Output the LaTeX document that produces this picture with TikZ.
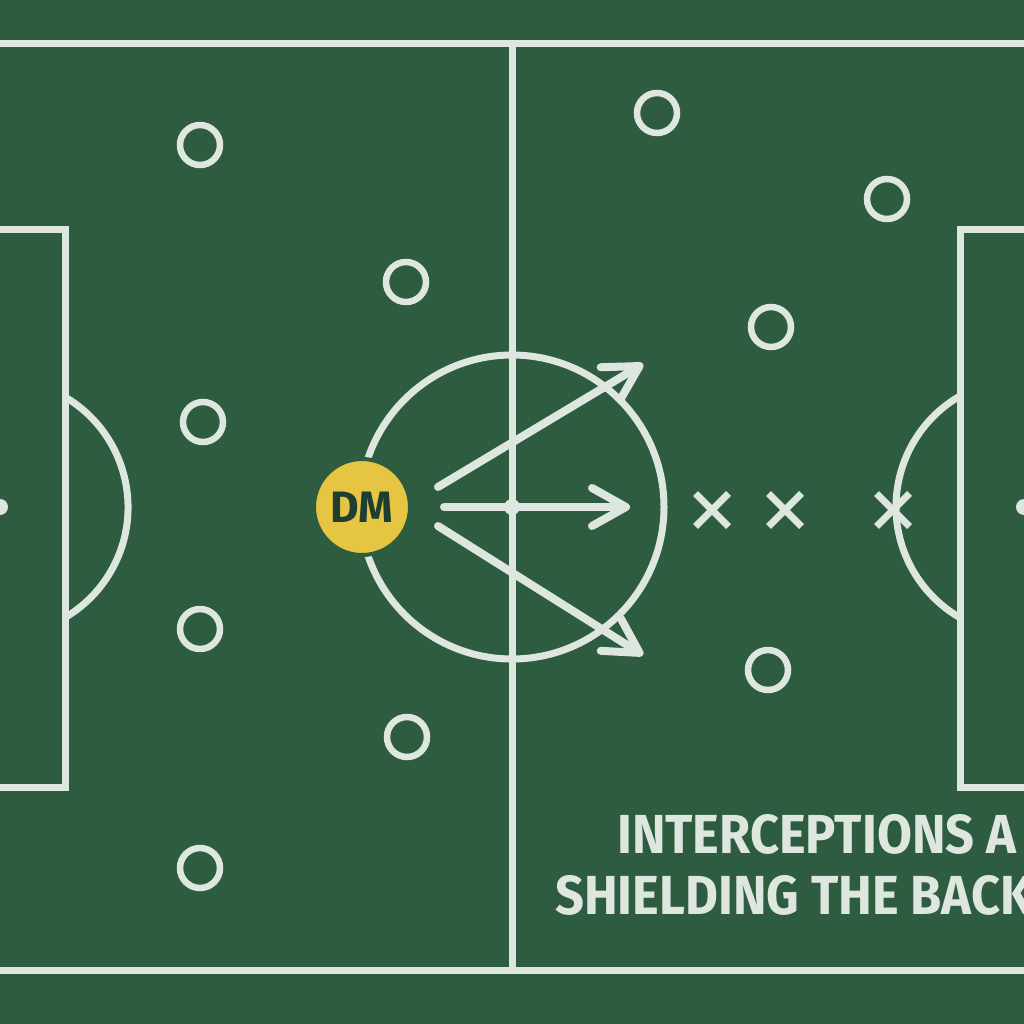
\documentclass[tikz,border=0pt]{standalone}
\usepackage{fontspec}
\setmainfont{Fira Sans}
\newfontfamily\titlefont{Fira Sans}[FakeStretch=0.92]
\usepackage{tikz}
\usetikzlibrary{positioning}
\usetikzlibrary{arrows.meta,shapes.misc}
\definecolor{pitch}{RGB}{45,92,64}
\definecolor{chalk}{RGB}{222,230,224}
\definecolor{dmyellow}{RGB}{229,197,66}
\definecolor{dmtext}{RGB}{30,62,50}

\begin{document}
\begin{tikzpicture}[x=1pt,y=-1pt,
	line/.style={draw=chalk,line width=7pt},
	player/.style={circle,draw=chalk,line width=6.5pt,minimum size=40pt,inner sep=0},
	marker/.style={cross out,draw=chalk,line width=7pt,minimum size=26pt,inner sep=0},
	dm/.style={circle,fill=dmyellow,draw=pitch,line width=4pt,minimum size=96pt,inner sep=0,text=dmtext,font=\bfseries\fontsize{44}{44}\selectfont},
	run/.style={draw=chalk,line width=8pt,line cap=round,-{Straight Barb[length=34pt,width=38pt,round]}},
	title/.style={text=chalk,inner sep=0,anchor=base west,font=\titlefont\bfseries\fontsize{55}{55}\selectfont}]
	\useasboundingbox (0,0) rectangle (1024,1024);
	\clip (0,0) rectangle (1024,1024);
	\fill[pitch] (0,0) rectangle (1024,1024);
	% pitch lines
	\draw[line] (0,44) -- (1024,44);
	\draw[line] (0,970) -- (1024,970);
	\draw[line] (512,44) -- (512,970);
	\draw[line] (512,507) circle[radius=152];
	\fill[chalk] (512,507) circle[radius=8];
	\draw[line] (0,230) -- (65,230) -- (65,787) -- (0,787);
	\draw[line] (65,397) arc[start angle=-59.5,end angle=59.5,radius=128];
	\fill[chalk] (0,507) circle[radius=8];
	\draw[line] (1024,230) -- (960,230) -- (960,787) -- (1024,787);
	\draw[line] (960,396) arc[start angle=240,end angle=120,radius=128];
	\fill[chalk] (1024,507) circle[radius=8];
	% players
	\node[player] (L1) at (200,145) {};
	\node[player] (L2) at (406,282) {};
	\node[player] (L3) at (203,422) {};
	\node[player] (L4) at (200,629) {};
	\node[player] (L5) at (407,737) {};
	\node[player] (L6) at (200,868) {};
	\node[player] (R1) at (657,113) {};
	\node[player] (R2) at (887,199) {};
	\node[player] (R3) at (771,327) {};
	\node[player] (R4) at (768,670) {};
	\node[marker] (X1) at (712,510) {};
	\node[marker] (X2) at (785,510) {};
	\node[marker] (X3) at (893,510) {};
	\node[dm] (DM) at (362,507) {DM};
	% passing lanes
	\coordinate (up) at (643,364);
	\coordinate (mid) at (630,507);
	\coordinate (down) at (643,655);
	\path
		([shift={(26,-20)}]DM.east) edge[run] (up)
		([shift={(32,0)}]DM.east) edge[run] (mid)
		([shift={(26,19)}]DM.east) edge[run] (down);
	\node[title] (T1) at (617,853) {INTERCEPTIONS A};
	\node[title] (T2) at (555,914) {SHIELDING THE BACK};
\end{tikzpicture}
\end{document}
